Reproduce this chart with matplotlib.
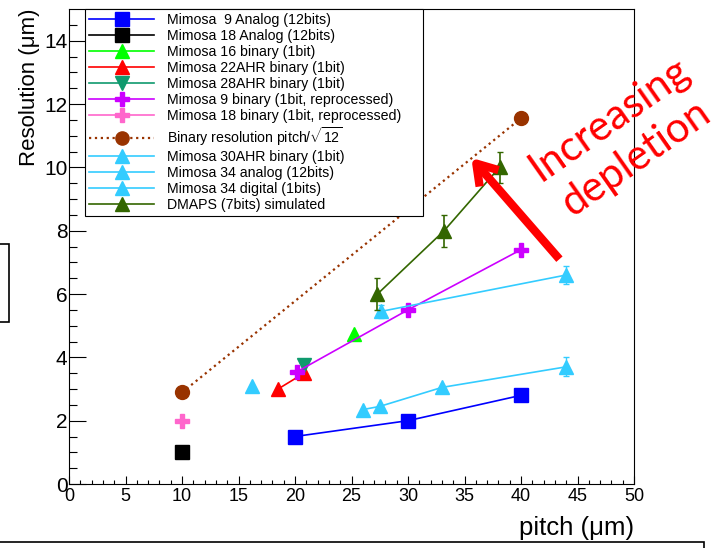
import numpy as np
import matplotlib
matplotlib.use('Agg')
import matplotlib.pyplot as plt
from matplotlib.patches import Rectangle

plt.rcParams['font.family'] = ['Liberation Sans', 'DejaVu Sans']
plt.rcParams['mathtext.fontset'] = 'custom'
plt.rcParams['mathtext.rm'] = 'Liberation Sans'

# Data: pitch (um) vs resolution (um)
m9_analog_x = [20, 30, 40]
m9_analog_y = [1.5, 2.0, 2.8]
m18_analog_x = [10]
m18_analog_y = [1.0]
m16_bin_x = [25.2]
m16_bin_y = [4.75]
m22_bin_x = [18.5, 20.8]
m22_bin_y = [3.0, 3.5]
m28_bin_x = [20.8]
m28_bin_y = [3.75]
m9_bin_x = [20.2, 30, 40]
m9_bin_y = [3.55, 5.5, 7.4]
m18_bin_x = [10]
m18_bin_y = [2.0]
pitch_x = [10, 40]
pitch_y = [2.89, 11.55]
m30_bin_x = [16.2]
m30_bin_y = [3.1]
m34_analog_x = [26, 27.5, 33, 44]
m34_analog_y = [2.35, 2.45, 3.05, 3.7]
m34_analog_err = [0, 0, 0, 0.3]
m34_digital_x = [27.6, 44]
m34_digital_y = [5.45, 6.6]
m34_digital_err = [0.2, 0.28]
dmaps_x = [27.3, 33.2, 38.1]
dmaps_y = [6.0, 8.0, 10.0]
dmaps_err = [0.5, 0.5, 0.5]

fig = plt.figure(figsize=(7.22, 5.48), dpi=100)
ax = fig.add_axes([69 / 722, 64 / 548, 565 / 722, 475 / 548])

lw = 1.2
cyan = '#33ccff'

ax.plot(m9_analog_x, m9_analog_y, '-s', color='#0000ff', lw=lw, ms=10, label='Mimosa  9 Analog (12bits)')
ax.plot(m18_analog_x, m18_analog_y, '-s', color='black', lw=lw, ms=10, label='Mimosa 18 Analog (12bits)')
ax.plot(m16_bin_x, m16_bin_y, '-^', color='#00ff00', lw=lw, ms=10, label='Mimosa 16 binary (1bit)')
ax.plot(m22_bin_x, m22_bin_y, '-^', color='#ff0000', lw=lw, ms=10, label='Mimosa 22AHR binary (1bit)')
ax.plot(m28_bin_x, m28_bin_y, '-v', color='#0f9a6e', lw=lw, ms=10, label='Mimosa 28AHR binary (1bit)')
ax.plot(m9_bin_x, m9_bin_y, '-P', color='#cc00ff', lw=lw, ms=10, label='Mimosa 9 binary (1bit, reprocessed)')
ax.plot(m18_bin_x, m18_bin_y, '-P', color='#ff66cc', lw=lw, ms=10, label='Mimosa 18 binary (1bit, reprocessed)')
ax.plot(pitch_x, pitch_y, ':o', color='#993300', lw=1.6, ms=10, label=r'Binary resolution pitch/$\sqrt{12}$')
ax.plot(m30_bin_x, m30_bin_y, '-^', color=cyan, lw=lw, ms=10, label='Mimosa 30AHR binary (1bit)')
ax.errorbar(m34_analog_x, m34_analog_y, yerr=m34_analog_err, fmt='none', ecolor=cyan, elinewidth=1, capsize=2)
ax.plot(m34_analog_x, m34_analog_y, '-^', color=cyan, lw=lw, ms=10, label='Mimosa 34 analog (12bits)')
ax.errorbar(m34_digital_x, m34_digital_y, yerr=m34_digital_err, fmt='none', ecolor=cyan, elinewidth=1, capsize=2)
ax.plot(m34_digital_x, m34_digital_y, '-^', color=cyan, lw=lw, ms=10, label='Mimosa 34 digital (1bits)')
ax.errorbar(dmaps_x, dmaps_y, yerr=dmaps_err, fmt='none', ecolor='#336600', elinewidth=1.2, capsize=2.5)
ax.plot(dmaps_x, dmaps_y, '-^', color='#336600', lw=lw, ms=10, label='DMAPS (7bits) simulated')

# axes, ROOT style
ax.set_xlim(0, 50)
ax.set_ylim(0, 15)
ax.set_xticks(np.arange(0, 51, 5))
ax.set_xticks(np.arange(0, 51, 1), minor=True)
ax.set_yticks(np.arange(0, 15, 2))
ax.set_yticks(np.arange(0, 15, 0.5), minor=True)
ax.tick_params(axis='x', which='major', direction='in', length=6, width=0.8, labelsize=13, pad=3, top=False)
ax.tick_params(axis='x', which='minor', direction='in', length=3, width=0.8, top=False)
ax.tick_params(axis='y', which='major', direction='in', length=12, width=0.8, labelsize=15, pad=1, right=False)
ax.tick_params(axis='y', which='minor', direction='in', length=6, width=0.8, right=False)
for s in ax.spines.values():
    s.set_linewidth(0.8)

ax.set_xlabel('pitch (\u03bcm)', fontsize=18.5, loc='right', labelpad=8)
ax.set_ylabel('Resolution (\u03bcm)', fontsize=16, loc='top', labelpad=3)

leg = ax.legend(loc='upper left', bbox_to_anchor=(0.028, 1.0, 0.599, 0.0), mode='expand',
                fontsize=10.2, frameon=True, fancybox=False, framealpha=1, edgecolor='black',
                handlelength=4.6, handletextpad=0.9, labelspacing=0.14, borderaxespad=0,
                borderpad=0.3, numpoints=1, markerscale=0.95)
leg.get_frame().set_linewidth(0.8)

# arrow and annotation
ax.annotate('', xy=(35.6, 10.3), xytext=(43.4, 7.1),
            arrowprops=dict(arrowstyle='->,head_length=0.7,head_width=0.45', color='#ff0000',
                            lw=6, mutation_scale=20, shrinkA=0, shrinkB=0, capstyle='butt'))
ax.text(49.0, 10.9, 'Increasing\ndepletion', rotation=35, ha='center', va='center',
        rotation_mode='anchor', multialignment='center', color='#ff0000', fontsize=30,
        family=['Lato', 'DejaVu Sans'], linespacing=1.3, clip_on=False)

# slide leftovers: boxes cut by the figure edge
fig.patches.append(Rectangle((-0.01, (548 - 322) / 548), 16.5 / 722, 78 / 548, transform=fig.transFigure,
                             fill=False, edgecolor='black', lw=1.2))
fig.patches.append(Rectangle((-0.01, -0.05), 704 / 722 + 0.01, 6 / 548 + 0.05, transform=fig.transFigure,
                             fill=False, edgecolor='black', lw=1.2))

fig.savefig('out.png', dpi=100)
